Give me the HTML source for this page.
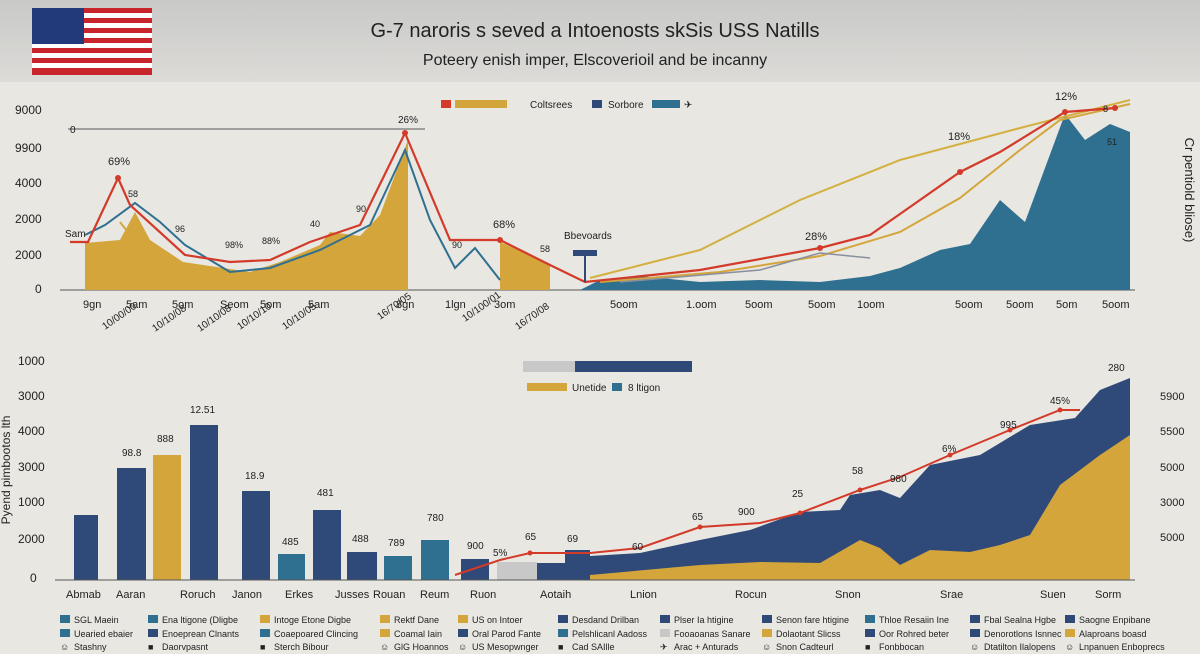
<!DOCTYPE html>
<html><head><meta charset="utf-8"><style>
html,body{margin:0;padding:0;width:1200px;height:654px;overflow:hidden;background:#e8e7e2;font-family:"Liberation Sans",sans-serif}
svg text{font-family:"Liberation Sans",sans-serif;fill:#222}
</style></head><body>
<svg width="1200" height="654" viewBox="0 0 1200 654" xmlns="http://www.w3.org/2000/svg">
<defs>
<linearGradient id="hd" x1="0" y1="0" x2="0" y2="1"><stop offset="0" stop-color="#c9c9c7"/><stop offset="1" stop-color="#dcdbd8"/></linearGradient>
</defs>
<rect x="0" y="0" width="1200" height="82" fill="url(#hd)"/>
<!-- flag -->
<g>
<rect x="32" y="8" width="120" height="67" fill="#fff"/>
<g fill="#c8242b">
<rect x="32" y="8" width="120" height="5"/><rect x="32" y="18" width="120" height="5"/><rect x="32" y="28" width="120" height="5"/><rect x="32" y="38" width="120" height="5"/><rect x="32" y="48" width="120" height="5"/><rect x="32" y="58" width="120" height="5"/><rect x="32" y="68" width="120" height="7"/>
</g>
<rect x="32" y="8" width="52" height="36" fill="#223a7a"/>
</g>
<text x="595" y="37" font-size="20" text-anchor="middle" fill="#222">G-7 naroris s seved a Intoenosts skSis USS Natills</text>
<text x="595" y="65" font-size="16" text-anchor="middle" fill="#333">Poteery enish imper, Elscoverioil and be incanny</text>

<!-- TOP CHART -->
<g font-size="12">
<text x="15" y="114">9000</text><text x="15" y="152">9900</text><text x="15" y="187">4000</text><text x="15" y="223">2000</text><text x="15" y="259">2000</text><text x="35" y="293">0</text>
</g>
<line x1="60" y1="290" x2="1135" y2="290" stroke="#555"/>
<line x1="68" y1="129" x2="425" y2="129" stroke="#555"/>
<text x="70" y="133" font-size="10">0</text>
<text x="1185" y="190" font-size="13" transform="rotate(90 1185 190)" text-anchor="middle">Cr pentiold bliose)</text>
<!-- top legend -->
<rect x="441" y="100" width="10" height="8" fill="#d33a2a"/><rect x="455" y="100" width="52" height="8" fill="#d4a53a"/>
<text x="530" y="108" font-size="10">Coltsrees</text>
<rect x="592" y="100" width="10" height="8" fill="#2f4a78"/><text x="608" y="108" font-size="10">Sorbore</text>
<rect x="652" y="100" width="28" height="8" fill="#2f6f8f"/><text x="684" y="108" font-size="10">✈</text>

<!-- gold areas -->
<path d="M85,290 L85,243 L120,240 L135,212 L150,240 L183,262 L250,272 L280,262 L320,245 L330,232 L360,236 L380,215 L408,140 L408,290 Z" fill="#d4a53a"/>
<path d="M500,290 L500,242 L530,255 L550,265 L550,290 Z" fill="#d4a53a"/>
<!-- teal area -->
<path d="M580,290 L600,280 L640,276 L700,282 L760,280 L820,282 L870,276 L900,268 L940,250 L970,244 L1000,200 L1025,222 L1065,114 L1085,140 L1110,124 L1130,132 L1130,290 Z" fill="#2f6f8f"/>
<!-- lines -->
<polyline points="590,278 700,250 800,200 900,160 1020,128 1130,100" fill="none" stroke="#d4b040" stroke-width="2"/>
<polyline points="600,282 720,272 820,256 900,232 960,198 1020,150 1060,120 1130,104" fill="none" stroke="#d4a53a" stroke-width="2"/>
<polyline points="620,282 760,270 820,253 870,258" fill="none" stroke="#8a8fa0" stroke-width="1.5"/>
<polyline points="85,235 105,225 135,203 160,222 185,245 230,272 270,268 320,250 350,235 370,225 405,150 430,220 455,268 475,248 500,280" fill="none" stroke="#2f6f8f" stroke-width="2"/>
<polyline points="120,222 140,248 180,275" fill="none" stroke="#d4a53a" stroke-width="2"/>
<polyline points="70,242 88,242 118,178 130,205 185,255 230,262 270,260 310,242 360,225 405,133 450,240 500,240 550,265 585,282 700,270 820,248 870,235 960,172 1000,152 1065,112 1115,108" fill="none" stroke="#d33a2a" stroke-width="2.2"/>
<g fill="#d33a2a"><circle cx="118" cy="178" r="3"/><circle cx="405" cy="133" r="3"/><circle cx="500" cy="240" r="3"/><circle cx="820" cy="248" r="3"/><circle cx="960" cy="172" r="3"/><circle cx="1065" cy="112" r="3"/><circle cx="1115" cy="108" r="3"/></g>
<rect x="573" y="250" width="24" height="6" fill="#2f4a78"/><line x1="585" y1="256" x2="585" y2="282" stroke="#2f4a78" stroke-width="2"/>
<g font-size="11">
<text x="108" y="165">69%</text><text x="128" y="197" font-size="9">58</text><text x="175" y="232" font-size="9">96</text><text x="225" y="248" font-size="9">98%</text><text x="262" y="244" font-size="9">88%</text><text x="310" y="227" font-size="9">40</text><text x="356" y="212" font-size="9">90</text><text x="398" y="123" font-size="10">26%</text><text x="65" y="237" font-size="10">Sam</text><text x="452" y="248" font-size="9">90</text><text x="493" y="228">68%</text><text x="540" y="252" font-size="9">58</text><text x="564" y="239" font-size="10">Bbevoards</text><text x="805" y="240">28%</text><text x="948" y="140">18%</text><text x="1055" y="100">12%</text><text x="1107" y="145" font-size="9">51</text><text x="1103" y="112" font-size="9">8</text>
</g>
<g font-size="11">
<text x="83" y="308">9gn</text><text x="126" y="308">5am</text><text x="172" y="308">5om</text><text x="220" y="308">Seom</text><text x="260" y="308">5om</text><text x="308" y="308">5am</text><text x="396" y="308">8gn</text><text x="445" y="308">1lgn</text><text x="494" y="308">3om</text><text x="610" y="308">5oom</text><text x="686" y="308">1.oom</text><text x="745" y="308">5oom</text><text x="808" y="308">5oom</text><text x="857" y="308">1oom</text><text x="955" y="308">5oom</text><text x="1006" y="308">5oom</text><text x="1056" y="308">5om</text><text x="1102" y="308">5oom</text>
</g>
<g font-size="10">
<text transform="translate(105,330) rotate(-35)">10/00/00</text><text transform="translate(155,332) rotate(-35)">10/10/08</text><text transform="translate(200,332) rotate(-35)">10/10/08</text><text transform="translate(240,330) rotate(-35)">10/10/10</text><text transform="translate(285,330) rotate(-35)">10/10/05</text><text transform="translate(380,320) rotate(-35)">16/70/05</text><text transform="translate(465,322) rotate(-35)">10/100/01</text><text transform="translate(518,330) rotate(-35)">16/70/08</text>
</g>

<!-- BOTTOM CHART -->
<g font-size="12">
<text x="18" y="365">1000</text><text x="18" y="400">3000</text><text x="18" y="435">4000</text><text x="18" y="471">3000</text><text x="18" y="506">1000</text><text x="18" y="543">2000</text><text x="30" y="582">0</text>
</g>
<text x="10" y="470" font-size="12" transform="rotate(-90 10 470)" text-anchor="middle">Pyend pimbootos lth</text>
<g font-size="11"><text x="1160" y="400">5900</text><text x="1160" y="435">5500</text><text x="1160" y="471">5000</text><text x="1160" y="506">3000</text><text x="1160" y="541">5000</text></g>
<rect x="523" y="361" width="52" height="11" fill="#c8c8c8"/><rect x="575" y="361" width="117" height="11" fill="#2f4a78"/>
<rect x="527" y="383" width="40" height="8" fill="#d4a53a"/><text x="572" y="391" font-size="10">Unetide</text>
<rect x="612" y="383" width="10" height="8" fill="#2f6f8f"/><text x="628" y="391" font-size="10">8 ltigon</text>
<!-- area -->
<path d="M590,580 L590,556 L640,553 L700,540 L750,530 L800,512 L840,510 L850,495 L880,490 L900,498 L930,465 L980,455 L1030,425 L1075,418 L1100,390 L1130,378 L1130,580 Z" fill="#2f4a78"/>
<path d="M590,580 L590,575 L700,565 L760,562 L820,563 L860,540 L880,548 L900,565 L930,550 L970,552 L1000,545 L1030,535 L1060,485 L1100,455 L1130,435 L1130,580 Z" fill="#d4a53a"/>
<!-- bars -->
<rect x="74" y="515" width="24" height="65" fill="#2f4a78"/>
<rect x="117" y="468" width="29" height="112" fill="#2f4a78"/>
<rect x="153" y="455" width="28" height="125" fill="#d4a53a"/>
<rect x="190" y="425" width="28" height="155" fill="#2f4a78"/>
<rect x="242" y="491" width="28" height="89" fill="#2f4a78"/>
<rect x="278" y="554" width="27" height="26" fill="#2f6f8f"/>
<rect x="313" y="510" width="28" height="70" fill="#2f4a78"/>
<rect x="347" y="552" width="30" height="28" fill="#2f4a78"/>
<rect x="384" y="556" width="28" height="24" fill="#2f6f8f"/>
<rect x="421" y="540" width="28" height="40" fill="#2f6f8f"/>
<rect x="461" y="559" width="28" height="21" fill="#2f4a78"/>
<rect x="497" y="562" width="40" height="18" fill="#c8c8c8"/>
<rect x="537" y="563" width="28" height="17" fill="#2f4a78"/>
<rect x="565" y="550" width="25" height="30" fill="#2f4a78"/>
<line x1="55" y1="580" x2="1135" y2="580" stroke="#555"/>
<polyline points="455,575 500,560 530,553 590,553 640,548 700,527 760,523 800,513 860,490 900,477 950,455 1010,430 1060,410 1080,410" fill="none" stroke="#d33a2a" stroke-width="2"/>
<g fill="#d33a2a"><circle cx="530" cy="553" r="2.5"/><circle cx="700" cy="527" r="2.5"/><circle cx="800" cy="513" r="2.5"/><circle cx="860" cy="490" r="2.5"/><circle cx="950" cy="455" r="2.5"/><circle cx="1010" cy="430" r="2.5"/><circle cx="1060" cy="410" r="2.5"/></g>
<g font-size="10">
<text x="190" y="413">12.51</text><text x="122" y="456">98.8</text><text x="157" y="442">888</text><text x="245" y="479">18.9</text><text x="317" y="496">481</text><text x="282" y="545">485</text><text x="352" y="542">488</text><text x="388" y="546">789</text><text x="427" y="521">780</text><text x="467" y="549">900</text><text x="493" y="556">5%</text><text x="525" y="540">65</text><text x="567" y="542">69</text><text x="632" y="550">60</text><text x="692" y="520">65</text><text x="738" y="515">900</text><text x="792" y="497">25</text><text x="852" y="474">58</text><text x="890" y="482">980</text><text x="942" y="452">6%</text><text x="1000" y="428">995</text><text x="1050" y="404">45%</text><text x="1108" y="371">280</text>
</g>
<g font-size="11">
<text x="66" y="598">Abmab</text><text x="116" y="598">Aaran</text><text x="180" y="598">Roruch</text><text x="232" y="598">Janon</text><text x="285" y="598">Erkes</text><text x="335" y="598">Jusses</text><text x="373" y="598">Rouan</text><text x="420" y="598">Reum</text><text x="470" y="598">Ruon</text><text x="540" y="598">Aotaih</text><text x="630" y="598">Lnion</text><text x="735" y="598">Rocun</text><text x="835" y="598">Snon</text><text x="940" y="598">Srae</text><text x="1040" y="598">Suen</text><text x="1095" y="598">Sorm</text>
</g>

<!-- LEGEND -->
<g font-size="9">
<g fill="#2f6f8f"><rect x="60" y="615" width="10" height="8"/><rect x="148" y="615" width="10" height="8"/><rect x="380" y="615" width="10" height="8" fill="#d4a53a"/></g>
<rect x="260" y="615" width="10" height="8" fill="#d4a53a"/><rect x="458" y="615" width="10" height="8" fill="#d4a53a"/><rect x="558" y="615" width="10" height="8" fill="#2f4a78"/><rect x="660" y="615" width="10" height="8" fill="#2f4a78"/><rect x="762" y="615" width="10" height="8" fill="#2f4a78"/><rect x="865" y="615" width="10" height="8" fill="#2f6f8f"/><rect x="970" y="615" width="10" height="8" fill="#2f4a78"/><rect x="1065" y="615" width="10" height="8" fill="#2f4a78"/>
<text x="74" y="623">SGL Maein</text><text x="162" y="623">Ena ltigone (Dligbe</text><text x="274" y="623">Intoge Etone Digbe</text><text x="394" y="623">Rektf Dane</text><text x="472" y="623">US on Intoer</text><text x="572" y="623">Desdand Drilban</text><text x="674" y="623">Plser Ia htigine</text><text x="776" y="623">Senon fare htigine</text><text x="879" y="623">Thloe Resaiin Ine</text><text x="984" y="623">Fbal Sealna Hgbe</text><text x="1079" y="623">Saogne Enpibane</text>
<rect x="60" y="629" width="10" height="8" fill="#2f6f8f"/><rect x="148" y="629" width="10" height="8" fill="#2f4a78"/><rect x="260" y="629" width="10" height="8" fill="#2f6f8f"/><rect x="380" y="629" width="10" height="8" fill="#d4a53a"/><rect x="458" y="629" width="10" height="8" fill="#2f4a78"/><rect x="558" y="629" width="10" height="8" fill="#2f6f8f"/><rect x="660" y="629" width="10" height="8" fill="#c8c8c8"/><rect x="762" y="629" width="10" height="8" fill="#d4a53a"/><rect x="865" y="629" width="10" height="8" fill="#2f4a78"/><rect x="970" y="629" width="10" height="8" fill="#2f4a78"/><rect x="1065" y="629" width="10" height="8" fill="#d4a53a"/>
<text x="74" y="637">Uearied ebaier</text><text x="162" y="637">Enoeprean Clnants</text><text x="274" y="637">Coaepoared Clincing</text><text x="394" y="637">Coamal Iain</text><text x="472" y="637">Oral Parod Fante</text><text x="572" y="637">Pelshlicanl Aadoss</text><text x="674" y="637">Fooaoanas Sanare</text><text x="776" y="637">Dolaotant Slicss</text><text x="879" y="637">Oor Rohred beter</text><text x="984" y="637">Denorotlons Isnnec</text><text x="1079" y="637">Alaproans boasd</text>
<text x="60" y="650" fill="#d4a53a">☺</text><text x="74" y="650">Stashny</text><text x="148" y="650" fill="#2f4a78">■</text><text x="162" y="650">Daorvpasnt</text><text x="260" y="650" fill="#d4a53a">■</text><text x="274" y="650">Sterch Bibour</text><text x="380" y="650" fill="#d33a2a">☺</text><text x="394" y="650">GlG Hoannos</text><text x="458" y="650" fill="#2f4a78">☺</text><text x="472" y="650">US Mesopwnger</text><text x="558" y="650" fill="#2f4a78">■</text><text x="572" y="650">Cad SAIlle</text><text x="660" y="650" fill="#2f4a78">✈</text><text x="674" y="650">Arac + Anturads</text><text x="762" y="650" fill="#2f4a78">☺</text><text x="776" y="650">Snon Cadteurl</text><text x="865" y="650" fill="#2f4a78">■</text><text x="879" y="650">Fonbbocan</text><text x="970" y="650" fill="#2f4a78">☺</text><text x="984" y="650">Dtatilton Ilalopens</text><text x="1065" y="650" fill="#999">☺</text><text x="1079" y="650">Lnpanuen Enboprecs</text>
</g>
</svg>
</body></html>
